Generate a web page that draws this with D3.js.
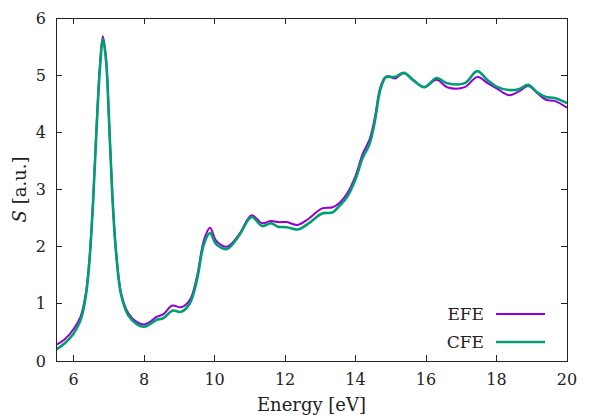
<!DOCTYPE html>
<html>
<head>
<meta charset="utf-8">
<script src="https://cdn.jsdelivr.net/npm/d3@7"></script>
<style>
  body { margin: 0; background: #fff; }
  svg { display: block; }
  svg text { font-family: "DejaVu Serif", serif; }
</style>
</head>
<body>
<script>
// energies shared by both series (eV)
const energy = [5.5, 5.75, 6.0, 6.2, 6.35, 6.45, 6.55, 6.65, 6.75, 6.83, 6.92, 7.0, 7.1, 7.2, 7.35, 7.55,
  7.8, 8.0, 8.2, 8.35, 8.55, 8.8, 9.05, 9.3, 9.5, 9.7, 9.87, 10.05, 10.35, 10.7, 11.05, 11.35, 11.6,
  11.8, 12.05, 12.35, 12.65, 13.05, 13.35, 13.55, 13.75, 14.0, 14.2, 14.4, 14.55, 14.7, 14.85, 14.95,
  15.12, 15.37, 15.63, 15.95, 16.3, 16.6, 17.1, 17.45, 17.75, 18.0, 18.35, 18.65, 18.9, 19.15, 19.4,
  19.65, 20.0];

const efe = [0.28, 0.38, 0.56, 0.78, 1.2, 1.8, 2.8, 4.1, 5.2, 5.68, 5.3, 4.3, 2.9, 1.95, 1.18, 0.84,
  0.68, 0.64, 0.7, 0.77, 0.82, 0.97, 0.94, 1.07, 1.48, 2.12, 2.33, 2.1, 2.0, 2.22, 2.55, 2.41, 2.45,
  2.43, 2.43, 2.38, 2.48, 2.67, 2.69, 2.77, 2.92, 3.24, 3.62, 3.88, 4.27, 4.78, 4.97, 4.98,
  4.94, 5.04, 4.91, 4.79, 4.92, 4.79, 4.79, 4.97, 4.86, 4.77, 4.65, 4.72, 4.81, 4.69, 4.57,
  4.55, 4.43];

const cfe = [0.2, 0.31, 0.48, 0.72, 1.15, 1.75, 2.75, 4.05, 5.15, 5.63, 5.25, 4.28, 2.88, 1.93, 1.15, 0.8,
  0.64, 0.6, 0.66, 0.72, 0.75, 0.88, 0.86, 1.01, 1.42, 2.05, 2.24, 2.04, 1.96, 2.2, 2.52, 2.36, 2.41,
  2.35, 2.34, 2.3, 2.4, 2.58, 2.6, 2.72, 2.86, 3.18, 3.55, 3.8, 4.2, 4.74, 4.96, 4.97,
  4.97, 5.04, 4.92, 4.79, 4.95, 4.86, 4.86, 5.07, 4.91, 4.8, 4.74, 4.76, 4.83, 4.7, 4.62,
  4.6, 4.51];

const xTicks = [6, 8, 10, 12, 14, 16, 18, 20];
const yTicks = [0, 1, 2, 3, 4, 5, 6];

const series = [
  {name: "EFE", values: efe, color: "#9400d3", width: 2},
  {name: "CFE", values: cfe, color: "#009e73", width: 2.6}
];

const width = 600, height = 420;
const margin = {left: 56, right: 33, top: 18, bottom: 59};

const svg = d3.select("body").append("svg")
    .attr("width", width)
    .attr("height", height);

const x = d3.scaleLinear().domain([5.5, 20]).range([margin.left, width - margin.right]);
const y = d3.scaleLinear().domain([0, 6]).range([height - margin.bottom, margin.top]);

const x0 = x.range()[0], x1 = x.range()[1];
const y0 = y.range()[0], y1 = y.range()[1];
const tl = 6;

// inward ticks on all four sides (mirrored)
const ticks = svg.append("g").attr("stroke", "#222").attr("stroke-width", 1).attr("shape-rendering", "crispEdges");
xTicks.forEach(t => {
  ticks.append("line").attr("x1", x(t)).attr("x2", x(t)).attr("y1", y0).attr("y2", y0 - tl);
  ticks.append("line").attr("x1", x(t)).attr("x2", x(t)).attr("y1", y1).attr("y2", y1 + tl);
});
yTicks.forEach(t => {
  ticks.append("line").attr("x1", x0).attr("x2", x0 + tl).attr("y1", y(t)).attr("y2", y(t));
  ticks.append("line").attr("x1", x1).attr("x2", x1 - tl).attr("y1", y(t)).attr("y2", y(t));
});

svg.append("g").selectAll("text")
  .data(xTicks)
  .join("text")
    .attr("x", d => x(d))
    .attr("y", y0 + 24)
    .attr("text-anchor", "middle")
    .attr("font-size", 16)
    .attr("fill", "#222")
    .text(d => d);

svg.append("g").selectAll("text")
  .data(yTicks)
  .join("text")
    .attr("x", x0 - 10)
    .attr("y", d => y(d))
    .attr("dy", "0.35em")
    .attr("text-anchor", "end")
    .attr("font-size", 16)
    .attr("fill", "#222")
    .text(d => d);

// curves
const line = d3.line()
    .x((d, i) => x(energy[i]))
    .y(d => y(d))
    .curve(d3.curveCatmullRom.alpha(0.5));

svg.append("defs").append("clipPath").attr("id", "clip")
  .append("rect").attr("x", x0).attr("y", y1).attr("width", x1 - x0).attr("height", y0 - y1);

svg.append("g").attr("clip-path", "url(#clip)")
  .selectAll("path")
  .data(series)
  .join("path")
    .attr("fill", "none")
    .attr("stroke", d => d.color)
    .attr("stroke-width", d => d.width)
    .attr("stroke-linejoin", "round")
    .attr("d", d => line(d.values));

// frame
svg.append("rect")
    .attr("x", x0).attr("y", y1)
    .attr("width", x1 - x0).attr("height", y0 - y1)
    .attr("fill", "none")
    .attr("stroke", "#222")
    .attr("shape-rendering", "crispEdges");

// legend
const legend = svg.append("g").selectAll("g")
  .data(series)
  .join("g")
    .attr("transform", (d, i) => `translate(0, ${314 + i * 28})`);

legend.append("text")
    .attr("x", 484)
    .attr("dy", "0.35em")
    .attr("text-anchor", "end")
    .attr("font-size", 17)
    .attr("fill", "#222")
    .text(d => d.name);

legend.append("line")
    .attr("x1", 496).attr("x2", 545)
    .attr("stroke", d => d.color)
    .attr("stroke-width", d => d.width);

// axis titles
svg.append("text")
    .attr("x", (x0 + x1) / 2)
    .attr("y", 411)
    .attr("text-anchor", "middle")
    .attr("font-size", 18)
    .attr("fill", "#222")
    .text("Energy [eV]");

const yt = svg.append("text")
    .attr("transform", `translate(26, ${(y0 + y1) / 2}) rotate(-90)`)
    .attr("text-anchor", "middle")
    .attr("font-size", 18)
    .attr("fill", "#222");
yt.append("tspan").attr("font-style", "italic").text("S");
yt.append("tspan").text(" [a.u.]");
</script>
</body>
</html>
